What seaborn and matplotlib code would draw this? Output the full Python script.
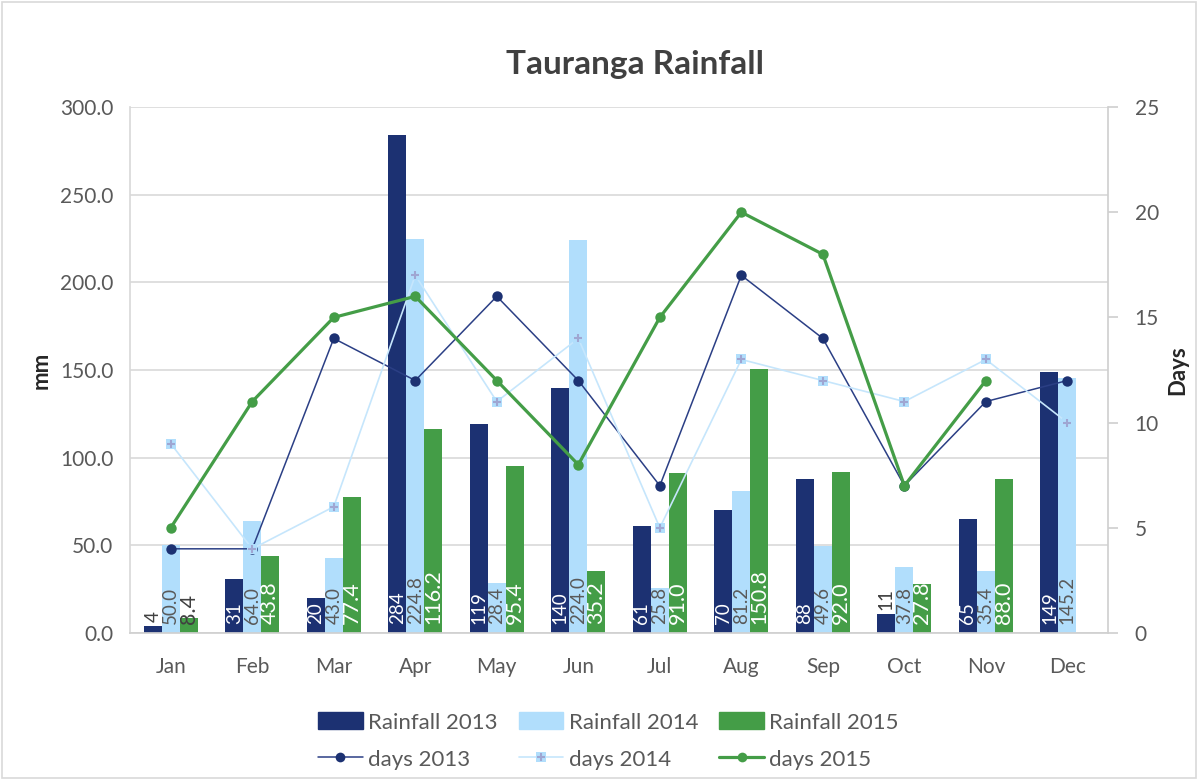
import numpy as np
import pandas as pd
import matplotlib.pyplot as plt
import seaborn as sns
from matplotlib.lines import Line2D
from matplotlib.patches import Patch, Rectangle
from matplotlib.legend_handler import HandlerTuple

months = ["Jan", "Feb", "Mar", "Apr", "May", "Jun", "Jul", "Aug", "Sep", "Oct", "Nov", "Dec"]
rain_2013 = [4, 31, 20, 284, 119, 140, 61, 70, 88, 11, 65, 149]
rain_2014 = [50.0, 64.0, 43.0, 224.8, 28.4, 224.0, 25.8, 81.2, 49.6, 37.8, 35.4, 145.2]
rain_2015 = [8.4, 43.8, 77.4, 116.2, 95.4, 35.2, 91.0, 150.8, 92.0, 27.8, 88.0, np.nan]
days_2013 = [4, 4, 14, 12, 16, 12, 7, 17, 14, 7, 11, 12]
days_2014 = [9, 4, 6, 17, 11, 14, 5, 13, 12, 11, 13, 10]
days_2015 = [5, 11, 15, 16, 12, 8, 15, 20, 18, 7, 12, np.nan]

navy = "#1C3172"
light = "#B1DEFC"
green = "#449D47"
grey = "#595959"

sns.set_theme(style="white")
plt.rcParams["font.family"] = ["Lato", "DejaVu Sans"]

rain = pd.DataFrame({
    "month": months * 3,
    "mm": rain_2013 + rain_2014 + rain_2015,
    "series": ["Rainfall 2013"] * 12 + ["Rainfall 2014"] * 12 + ["Rainfall 2015"] * 12,
})

fig = plt.figure(figsize=(11.98, 7.8), dpi=100)
ax = fig.add_axes([0.1085, 0.1885, 0.8165, 0.6743])

sns.barplot(data=rain, x="month", y="mm", hue="series", order=months,
            palette=[navy, light, green], width=0.66, gap=0, dodge=True,
            saturation=1, linewidth=0, legend=False, ax=ax)

# data labels, vertical at the bar base (above the bar when it is too short)
label_style = [
    ("{:.0f}", "white", 13.5, 15, "above"),
    ("{:.1f}", grey, 13.5, 0, "base"),
    ("{:.1f}", "white", 15.5, 20, "base"),
]
for cont, (fmt, col, fs, minh, short) in zip(ax.containers, label_style):
    for p in cont.patches:
        h = p.get_height()
        if np.isnan(h):
            continue
        y, c = 5, col
        if h < minh:
            c = "#404040"
            if short == "above":
                y = h + 2
        ax.text(p.get_x() + p.get_width() / 2, y, fmt.format(h), rotation=90,
                ha="center", va="bottom", color=c, fontsize=fs)

ax.set_xlim(-0.5, 11.5)
ax.set_ylim(0, 300)
ax.set_yticks(np.arange(0, 301, 50))
ax.set_yticklabels([f"{v:.1f}" for v in np.arange(0, 301, 50)], color=grey, fontsize=15)
ax.set_xticks(np.arange(12))
ax.set_xticklabels(months, color=grey, fontsize=15)
ax.set_xticks(np.arange(-0.5, 12, 1), minor=True)
ax.tick_params(axis="x", which="major", length=0, pad=17)
ax.tick_params(axis="x", which="minor", length=8, color="#D0D0D0", direction="out")
ax.tick_params(axis="y", length=0, pad=12)
ax.yaxis.grid(True, color="#D9D9D9", linewidth=1.2)
ax.set_axisbelow(True)
ax.set_xlabel("")
ax.set_ylabel("mm", fontsize=16, fontweight="bold", color="#262626", labelpad=6)
for s in ["top", "right"]:
    ax.spines[s].set_visible(False)
ax.spines["left"].set_color("#D9D9D9")
ax.spines["bottom"].set_color("#D0D0D0")

ax2 = ax.twinx()
pos = np.arange(len(months))
sns.lineplot(x=pos, y=days_2013, ax=ax2, color="#2B3F85", linewidth=1.1,
             marker="o", markersize=7.5, markeredgewidth=0, markerfacecolor=navy)
sns.lineplot(x=pos, y=days_2014, ax=ax2, color="#C6E6FC", linewidth=1.2,
             marker="s", markersize=7, markeredgewidth=0, markerfacecolor="#B1DEFC")
ax2.plot(pos, days_2014, linestyle="none", marker="+", markersize=6,
         markeredgewidth=1.5, color="#9FA6D2")
sns.lineplot(x=pos, y=days_2015, ax=ax2, color=green, linewidth=2.3,
             marker="o", markersize=7.5, markeredgewidth=0, markerfacecolor=green)
ax2.set_ylim(0, 25)
ax2.set_xlim(-0.5, 11.5)
ax2.set_yticks(np.arange(0, 26, 5))
ax2.set_yticklabels([str(v) for v in np.arange(0, 26, 5)], color=grey, fontsize=15)
ax2.tick_params(axis="y", length=7, color="#D0D0D0", direction="out", pad=12)
ax2.set_ylabel("Days", fontsize=16, fontweight="bold", color="#262626", labelpad=6)
for s in ["top", "left", "bottom"]:
    ax2.spines[s].set_visible(False)
ax2.spines["right"].set_color("#D0D0D0")

fig.text(0.53, 0.917, "Tauranga Rainfall", ha="center", va="center",
         fontsize=24, fontweight="bold", color="#404040")

h13 = Patch(color=navy)
h14 = Patch(color=light)
h15 = Patch(color=green)
l13 = Line2D([], [], color="#2B3F85", lw=1.1, marker="o", markersize=7, markeredgewidth=0, markerfacecolor=navy)
l14a = Line2D([], [], color="#C6E6FC", lw=1.2, marker="s", markersize=7, markeredgewidth=0, markerfacecolor=light)
l14b = Line2D([], [], linestyle="none", marker="+", markersize=6, markeredgewidth=1.5, color="#9FA6D2")
l15 = Line2D([], [], color=green, lw=2.3, marker="o", markersize=7, markeredgewidth=0)
fig.legend([h13, l13, h14, (l14a, l14b), h15, l15],
           ["Rainfall 2013", "days 2013", "Rainfall 2014", "days 2014", "Rainfall 2015", "days 2015"],
           ncol=3, loc="center", bbox_to_anchor=(0.508, 0.05), frameon=False,
           fontsize=16, labelcolor=grey, handlelength=2.0, handleheight=0.8,
           columnspacing=0.95, handletextpad=0.25, labelspacing=0.75, numpoints=1,
           handler_map={tuple: HandlerTuple(ndivide=1)})

fig.patches.append(Rectangle((0.002, 0.002), 0.996, 0.996, transform=fig.transFigure,
                             fill=False, edgecolor="#D9D9D9", linewidth=1.2))

fig.savefig("out.png", dpi=100)
